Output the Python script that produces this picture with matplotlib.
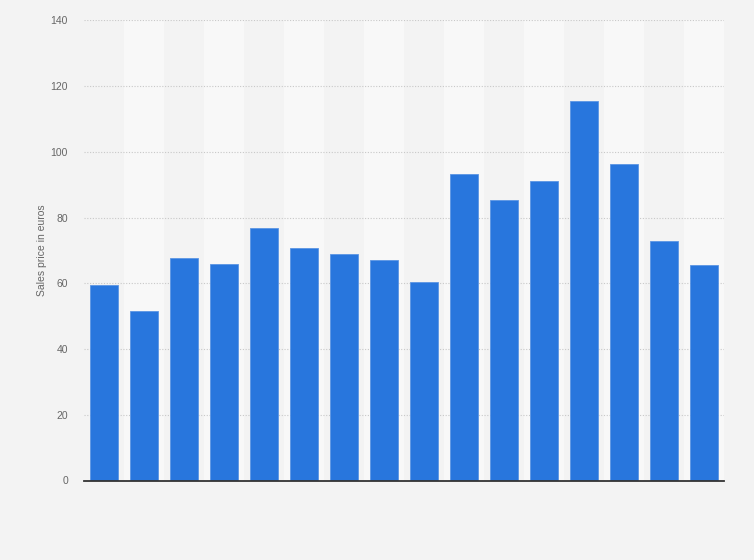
import matplotlib
matplotlib.use("Agg")
import matplotlib.pyplot as plt
import numpy as np

plt.rcParams['font.family'] = ['Liberation Sans', 'DejaVu Sans']

values = [59.5, 51.6, 67.7, 65.9, 76.8, 70.7, 68.9, 67.1, 60.3, 93.2, 85.4, 91.2, 115.4, 96.3, 72.8, 65.5]
y_ticks = [0, 20, 40, 60, 80, 100, 120, 140]
y_label = "Sales price in euros"

bg = "#f3f3f3"
fig = plt.figure(figsize=(7.54, 5.6), dpi=100, facecolor=bg)
ax = fig.add_axes([84/754, 1-480.5/560, 640/754, 460.2/560])
ax.set_facecolor(bg)

x = np.arange(len(values))
for i in x:
    if i % 2 == 1:
        ax.axvspan(i - 0.5, i + 0.5, color="#f8f8f8", zorder=0, lw=0)

ax.bar(x, values, width=0.7, color="#2876dd", edgecolor="#5b95e4", linewidth=0.6, zorder=3)

ax.set_xlim(-0.5, len(values) - 0.5)
ax.set_ylim(0, 140)
ax.set_yticks(y_ticks)
ax.set_yticklabels([str(t) for t in y_ticks])
ax.set_xticks([])
ax.yaxis.grid(True, linestyle=(0, (1, 1.5)), color="#c8c8c8", linewidth=0.8, zorder=1)
ax.set_axisbelow(True)
for s in ["top", "right", "left"]:
    ax.spines[s].set_visible(False)
ax.spines["bottom"].set_color("#333333")
ax.spines["bottom"].set_linewidth(1.3)
ax.spines["bottom"].set_zorder(4)
ax.tick_params(axis="y", length=0, pad=11.5, labelsize=7.5, labelcolor="#666666")
ax.set_ylabel(y_label, fontsize=7.5, color="#666666", labelpad=2.5)

fig.savefig("out.png", dpi=100, facecolor=bg)
